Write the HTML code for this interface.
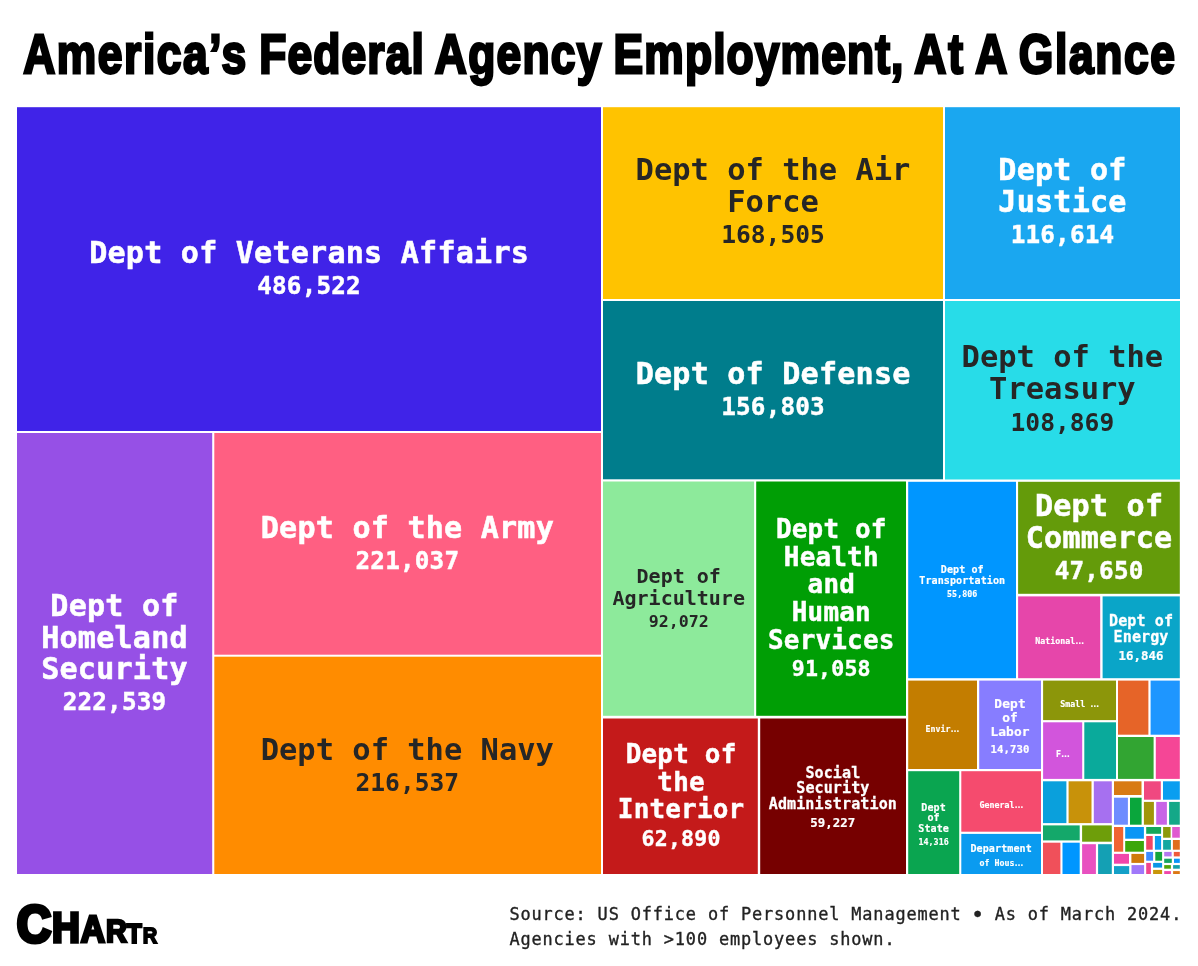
<!DOCTYPE html>
<html lang="en">
<head>
<meta charset="utf-8">
<title>America’s Federal Agency Employment, At A Glance</title>
<style>
html,body{margin:0;padding:0;background:#fff;}
body{width:1198px;height:966px;overflow:hidden;}
svg{display:block;}
.m{font-family:"DejaVu Sans Mono","Liberation Mono",monospace;font-weight:700;text-anchor:middle;}
.s{font-family:"DejaVu Sans Mono","Liberation Mono",monospace;font-weight:400;fill:#222;}
.t{font-family:"Liberation Sans",sans-serif;font-weight:700;fill:#000;stroke:#000;stroke-linejoin:miter;stroke-miterlimit:2.5;}
</style>
</head>
<body>
<svg width="1198" height="966" viewBox="0 0 1198 966">
<rect width="1198" height="966" fill="#fff"/>
<text class="t" id="title" font-size="200" stroke-width="10" transform="translate(0 72.70) scale(0.222 0.2797)"><tspan x="104.3" letter-spacing="7.02">America’s</tspan> <tspan x="1167.7" letter-spacing="4.98">Federal</tspan> <tspan x="1958.8" letter-spacing="5.62">Agency</tspan> <tspan x="2764.1" letter-spacing="4.97">Employment,</tspan> <tspan x="4118.1" letter-spacing="9.00">At</tspan> <tspan x="4393.5" letter-spacing="0.00">A</tspan> <tspan x="4588.9" letter-spacing="7.42">Glance</tspan></text>
<g id="treemap">
<rect x="17" y="107.2" width="584.0" height="323.8" fill="#4023E8"/>
<rect x="17" y="433" width="195.2" height="441.0" fill="#9650E6"/>
<rect x="214.3" y="433" width="386.7" height="221.7" fill="#FF5F82"/>
<rect x="214.3" y="656.7" width="386.7" height="217.3" fill="#FF8C00"/>
<rect x="603" y="107.2" width="340.0" height="191.8" fill="#FFC300"/>
<rect x="945" y="107.2" width="235.0" height="191.8" fill="#1AA7F0"/>
<rect x="603" y="301" width="340.0" height="178.3" fill="#007D8C"/>
<rect x="945" y="301" width="235.0" height="178.5" fill="#28DCE8"/>
<rect x="603" y="481.5" width="151.1" height="234.3" fill="#8DEA9B"/>
<rect x="756.2" y="481.5" width="149.8" height="234.3" fill="#009E05"/>
<rect x="603" y="718.5" width="154.8" height="155.5" fill="#C41A1A"/>
<rect x="760.2" y="718.5" width="145.8" height="155.5" fill="#760000"/>
<rect x="908.2" y="481.8" width="107.8" height="196.4" fill="#0096FF"/>
<rect x="1018.1" y="481.8" width="161.7" height="112.0" fill="#649B0A"/>
<rect x="1018.1" y="596.4" width="82.1" height="81.8" fill="#E646AA"/>
<rect x="1102.6" y="596.4" width="77.2" height="81.8" fill="#0AA5C8"/>
<rect x="908.2" y="680.6" width="68.8" height="88.4" fill="#C37D00"/>
<rect x="979.2" y="680.6" width="61.8" height="88.4" fill="#877DFF"/>
<rect x="908.2" y="771.2" width="51.0" height="102.8" fill="#0AA550"/>
<rect x="961.3" y="771.2" width="79.7" height="60.5" fill="#F54B6E"/>
<rect x="961.3" y="833.9" width="79.7" height="40.1" fill="#0A9BF0"/>
<rect x="1043.1" y="680.6" width="72.9" height="39.5" fill="#8C960A"/>
<rect x="1118" y="680.6" width="30.4" height="54.1" fill="#E66428"/>
<rect x="1150.6" y="680.6" width="29.2" height="54.1" fill="#1E96FF"/>
<rect x="1043.1" y="722.3" width="39.1" height="56.6" fill="#D255DC"/>
<rect x="1084.3" y="722.3" width="31.7" height="56.6" fill="#0AAA9B"/>
<rect x="1118" y="737" width="35.6" height="41.9" fill="#32A532"/>
<rect x="1155.8" y="737" width="24.0" height="41.9" fill="#F54696"/>
<rect x="1043" y="781.3" width="23.4" height="41.8" fill="#0AA0DC"/>
<rect x="1068.6" y="781.3" width="22.9" height="41.8" fill="#C8920A"/>
<rect x="1093.8" y="781.3" width="18.0" height="41.8" fill="#A670F0"/>
<rect x="1043" y="825.4" width="36.7" height="15.0" fill="#14A86A"/>
<rect x="1082.1" y="825.4" width="29.7" height="16.3" fill="#6E9E0A"/>
<rect x="1043" y="842.7" width="17.4" height="31.3" fill="#F0505A"/>
<rect x="1062.5" y="842.7" width="17.2" height="31.3" fill="#0096FF"/>
<rect x="1082.1" y="844.2" width="13.8" height="29.8" fill="#E850C0"/>
<rect x="1098.1" y="844.2" width="13.7" height="29.8" fill="#14A0B4"/>
<rect x="1114" y="781.3" width="27.5" height="13.7" fill="#D87A14"/>
<rect x="1144" y="781.3" width="16.8" height="18.4" fill="#F04880"/>
<rect x="1163" y="781.3" width="16.8" height="18.4" fill="#0A9EF0"/>
<rect x="1114" y="797.7" width="13.9" height="27.0" fill="#6E8CFF"/>
<rect x="1130" y="797.7" width="11.6" height="27.0" fill="#0AA63C"/>
<rect x="1143.9" y="801.9" width="10.0" height="22.8" fill="#A0960A"/>
<rect x="1156.2" y="801.9" width="10.7" height="22.8" fill="#C864E6"/>
<rect x="1169.1" y="801.9" width="10.7" height="22.8" fill="#14A888"/>
<rect x="1114" y="827" width="9.2" height="24.7" fill="#F06432"/>
<rect x="1125.2" y="827" width="18.7" height="11.7" fill="#0A96F5"/>
<rect x="1125.2" y="841" width="18.7" height="10.7" fill="#3CA60A"/>
<rect x="1146.2" y="827" width="14.9" height="6.8" fill="#14A85A"/>
<rect x="1146.2" y="836" width="6.5" height="13.7" fill="#F04664"/>
<rect x="1154.9" y="836" width="6.2" height="13.7" fill="#0A9EF0"/>
<rect x="1163.1" y="827" width="7.5" height="10.7" fill="#8C9A0A"/>
<rect x="1172.2" y="827" width="7.6" height="10.7" fill="#E05AD0"/>
<rect x="1163.1" y="840" width="7.8" height="9.7" fill="#14A8A0"/>
<rect x="1172.9" y="840" width="6.9" height="9.7" fill="#E06E1E"/>
<rect x="1114" y="853.9" width="15.0" height="9.8" fill="#F046AA"/>
<rect x="1131.4" y="853.9" width="12.7" height="9.0" fill="#D07A0A"/>
<rect x="1114" y="866.1" width="15.2" height="7.9" fill="#14A0C8"/>
<rect x="1131.5" y="865.1" width="12.6" height="8.9" fill="#A078FA"/>
<rect x="1146.2" y="851.9" width="6.9" height="8.8" fill="#3C8CFF"/>
<rect x="1155.3" y="851.9" width="6.8" height="8.8" fill="#14A53C"/>
<rect x="1146.2" y="862.9" width="4.7" height="11.1" fill="#F0468C"/>
<rect x="1153.1" y="862.9" width="9.0" height="4.7" fill="#0A96E6"/>
<rect x="1153.1" y="869.9" width="9.0" height="4.1" fill="#C8960A"/>
<rect x="1164.2" y="851.9" width="7.4" height="4.5" fill="#B478F0"/>
<rect x="1173.8" y="851.9" width="6.0" height="4.5" fill="#F05A3C"/>
<rect x="1164.2" y="858.7" width="7.6" height="4.2" fill="#14A564"/>
<rect x="1174" y="858.7" width="5.8" height="4.2" fill="#0A96FA"/>
<rect x="1164.2" y="865.1" width="6.7" height="3.6" fill="#50A50A"/>
<rect x="1173.1" y="865.1" width="6.7" height="3.6" fill="#14A0AA"/>
<rect x="1164.2" y="871.1" width="6.7" height="2.9" fill="#F046AA"/>
<rect x="1173.1" y="871.1" width="6.7" height="2.9" fill="#DC7814"/>
</g>
<g id="labels">
<g class="m" fill="#ffffff" stroke="#ffffff">
<text x="309.11" y="262.70" font-size="30.07" letter-spacing="0.23" stroke-width="0.55">Dept of Veterans Affairs</text>
<text x="309.09" y="293.50" font-size="24.31" letter-spacing="0.18" stroke-width="0.44">486,522</text>
</g>
<g class="m" fill="#ffffff" stroke="#ffffff">
<text x="114.51" y="616.10" font-size="30.07" letter-spacing="0.23" stroke-width="0.55">Dept of</text>
<text x="114.51" y="647.80" font-size="30.07" letter-spacing="0.23" stroke-width="0.55">Homeland</text>
<text x="114.51" y="679.40" font-size="30.07" letter-spacing="0.23" stroke-width="0.55">Security</text>
<text x="114.49" y="710.30" font-size="24.31" letter-spacing="0.18" stroke-width="0.44">222,539</text>
</g>
<g class="m" fill="#ffffff" stroke="#ffffff">
<text x="407.41" y="538.10" font-size="30.07" letter-spacing="0.23" stroke-width="0.55">Dept of the Army</text>
<text x="407.39" y="569.30" font-size="24.31" letter-spacing="0.18" stroke-width="0.44">221,037</text>
</g>
<g class="m" fill="#262626" stroke="#262626">
<text x="407.30" y="759.70" font-size="30.45" letter-spacing="0.00" stroke-width="0.00">Dept of the Navy</text>
<text x="407.30" y="790.90" font-size="24.61" letter-spacing="0.00" stroke-width="0.00">216,537</text>
</g>
<g class="m" fill="#262626" stroke="#262626">
<text x="773.00" y="180.20" font-size="30.45" letter-spacing="0.00" stroke-width="0.00">Dept of the Air</text>
<text x="773.00" y="212.00" font-size="30.45" letter-spacing="0.00" stroke-width="0.00">Force</text>
<text x="773.00" y="243.00" font-size="24.61" letter-spacing="0.00" stroke-width="0.00">168,505</text>
</g>
<g class="m" fill="#ffffff" stroke="#ffffff">
<text x="1062.51" y="180.30" font-size="30.07" letter-spacing="0.23" stroke-width="0.55">Dept of</text>
<text x="1062.51" y="212.00" font-size="30.07" letter-spacing="0.23" stroke-width="0.55">Justice</text>
<text x="1062.49" y="243.10" font-size="24.31" letter-spacing="0.18" stroke-width="0.44">116,614</text>
</g>
<g class="m" fill="#ffffff" stroke="#ffffff">
<text x="773.11" y="384.30" font-size="30.07" letter-spacing="0.23" stroke-width="0.55">Dept of Defense</text>
<text x="773.09" y="415.10" font-size="24.31" letter-spacing="0.18" stroke-width="0.44">156,803</text>
</g>
<g class="m" fill="#262626" stroke="#262626">
<text x="1062.40" y="367.10" font-size="30.45" letter-spacing="0.00" stroke-width="0.00">Dept of the</text>
<text x="1062.40" y="398.80" font-size="30.45" letter-spacing="0.00" stroke-width="0.00">Treasury</text>
<text x="1062.40" y="430.60" font-size="24.61" letter-spacing="0.00" stroke-width="0.00">108,869</text>
</g>
<g class="m" fill="#262626" stroke="#262626">
<text x="678.70" y="583.40" font-size="20.00" letter-spacing="0.00" stroke-width="0.00">Dept of</text>
<text x="678.70" y="604.80" font-size="20.00" letter-spacing="0.00" stroke-width="0.00">Agriculture</text>
<text x="678.70" y="627.20" font-size="16.58" letter-spacing="0.00" stroke-width="0.00">92,072</text>
</g>
<g class="m" fill="#ffffff" stroke="#ffffff">
<text x="831.30" y="538.30" font-size="25.94" letter-spacing="0.20" stroke-width="0.47">Dept of</text>
<text x="831.30" y="565.80" font-size="25.94" letter-spacing="0.20" stroke-width="0.47">Health</text>
<text x="831.30" y="593.30" font-size="25.94" letter-spacing="0.20" stroke-width="0.47">and</text>
<text x="831.30" y="621.10" font-size="25.94" letter-spacing="0.20" stroke-width="0.47">Human</text>
<text x="831.30" y="649.00" font-size="25.94" letter-spacing="0.20" stroke-width="0.47">Services</text>
<text x="831.28" y="676.00" font-size="21.60" letter-spacing="0.16" stroke-width="0.39">91,058</text>
</g>
<g class="m" fill="#ffffff" stroke="#ffffff">
<text x="681.10" y="763.20" font-size="25.94" letter-spacing="0.20" stroke-width="0.47">Dept of</text>
<text x="681.10" y="790.80" font-size="25.94" letter-spacing="0.20" stroke-width="0.47">the</text>
<text x="681.10" y="818.40" font-size="25.94" letter-spacing="0.20" stroke-width="0.47">Interior</text>
<text x="681.08" y="846.40" font-size="21.60" letter-spacing="0.16" stroke-width="0.39">62,890</text>
</g>
<g class="m" fill="#ffffff" stroke="#ffffff">
<text x="832.86" y="777.70" font-size="15.04" letter-spacing="0.11" stroke-width="0.27">Social</text>
<text x="832.86" y="793.40" font-size="15.04" letter-spacing="0.11" stroke-width="0.27">Security</text>
<text x="832.86" y="809.10" font-size="15.04" letter-spacing="0.11" stroke-width="0.27">Administration</text>
<text x="832.85" y="827.40" font-size="12.35" letter-spacing="0.09" stroke-width="0.23">59,227</text>
</g>
<g class="m" fill="#ffffff" stroke="#ffffff">
<text x="962.24" y="572.50" font-size="10.07" letter-spacing="0.08" stroke-width="0.18">Dept of</text>
<text x="962.24" y="583.60" font-size="10.07" letter-spacing="0.08" stroke-width="0.18">Transportation</text>
<text x="962.23" y="597.10" font-size="8.34" letter-spacing="0.06" stroke-width="0.15">55,806</text>
</g>
<g class="m" fill="#ffffff" stroke="#ffffff">
<text x="1099.11" y="516.30" font-size="30.07" letter-spacing="0.23" stroke-width="0.55">Dept of</text>
<text x="1099.11" y="547.90" font-size="30.07" letter-spacing="0.23" stroke-width="0.55">Commerce</text>
<text x="1099.09" y="579.00" font-size="24.31" letter-spacing="0.18" stroke-width="0.44">47,650</text>
</g>
<g class="m" fill="#ffffff" stroke="#ffffff">
<text x="1141.06" y="626.40" font-size="15.04" letter-spacing="0.11" stroke-width="0.27">Dept of</text>
<text x="1141.06" y="642.10" font-size="15.04" letter-spacing="0.11" stroke-width="0.27">Energy</text>
<text x="1141.05" y="660.30" font-size="12.35" letter-spacing="0.09" stroke-width="0.23">16,846</text>
</g>
<g class="m" fill="#ffffff" stroke="#ffffff">
<text x="1010.05" y="708.20" font-size="12.87" letter-spacing="0.10" stroke-width="0.23">Dept</text>
<text x="1010.05" y="721.80" font-size="12.87" letter-spacing="0.10" stroke-width="0.23">of</text>
<text x="1010.05" y="735.60" font-size="12.87" letter-spacing="0.10" stroke-width="0.23">Labor</text>
<text x="1010.04" y="752.60" font-size="10.65" letter-spacing="0.08" stroke-width="0.19">14,730</text>
</g>
<g class="m" fill="#ffffff" stroke="#ffffff">
<text x="933.64" y="810.70" font-size="10.07" letter-spacing="0.08" stroke-width="0.18">Dept</text>
<text x="933.64" y="821.10" font-size="10.07" letter-spacing="0.08" stroke-width="0.18">of</text>
<text x="933.64" y="831.60" font-size="10.07" letter-spacing="0.08" stroke-width="0.18">State</text>
<text x="933.63" y="844.90" font-size="8.34" letter-spacing="0.06" stroke-width="0.15">14,316</text>
</g>
<g class="m" fill="#ffffff" stroke="#ffffff">
<text x="1001.14" y="852.40" font-size="10.07" letter-spacing="0.08" stroke-width="0.18">Department</text>
</g>
<g class="m" fill="#fff" stroke="#fff" stroke-width="0.15" font-size="8.3">
<text x="1035.3" y="643.8" text-anchor="start" xml:space="preserve">National<tspan font-family="'Liberation Sans',sans-serif" font-size="9">…</tspan></text>
<text x="925.6" y="731.7" text-anchor="start" xml:space="preserve">Envir<tspan font-family="'Liberation Sans',sans-serif" font-size="9">…</tspan></text>
<text x="1060.3" y="706.9" text-anchor="start" xml:space="preserve">Small <tspan font-family="'Liberation Sans',sans-serif" font-size="9">…</tspan></text>
<text x="1056.1" y="757" text-anchor="start" xml:space="preserve">F<tspan font-family="'Liberation Sans',sans-serif" font-size="9">…</tspan></text>
<text x="979.6" y="808" text-anchor="start" xml:space="preserve">General<tspan font-family="'Liberation Sans',sans-serif" font-size="9">…</tspan></text>
<text x="979.5" y="865.8" text-anchor="start" xml:space="preserve">of Hous<tspan font-family="'Liberation Sans',sans-serif" font-size="9">…</tspan></text>
</g>
</g>
<g class="s" font-size="16.9" letter-spacing="0.860" stroke="#222" stroke-width="0.35">
<text x="509.4" y="920.2" xml:space="preserve">Source: US Office of Personnel Management <tspan font-size="22" dx="-1.54" dy="1.9">•</tspan><tspan dx="-1.54" dy="-1.9"> As of March 2024.</tspan></text>
<text x="509.4" y="944.5">Agencies with &gt;100 employees shown.</text>
</g>
<text class="t" id="logo" transform="scale(0.91 1)"><tspan x="18.33" y="941.99" font-size="52.28" stroke-width="4.18">C</tspan><tspan x="57.07" y="942.00" font-size="42.47" stroke-width="3.40">H</tspan><tspan x="88.70" y="942.22" font-size="36.88" stroke-width="2.95">A</tspan><tspan x="116.55" y="942.42" font-size="31.90" stroke-width="2.55">R</tspan><tspan x="139.22" y="942.75" font-size="27.06" stroke-width="2.16">T</tspan><tspan x="156.82" y="942.82" font-size="22.09" stroke-width="1.77">R</tspan></text>
</svg>
</body>
</html>
